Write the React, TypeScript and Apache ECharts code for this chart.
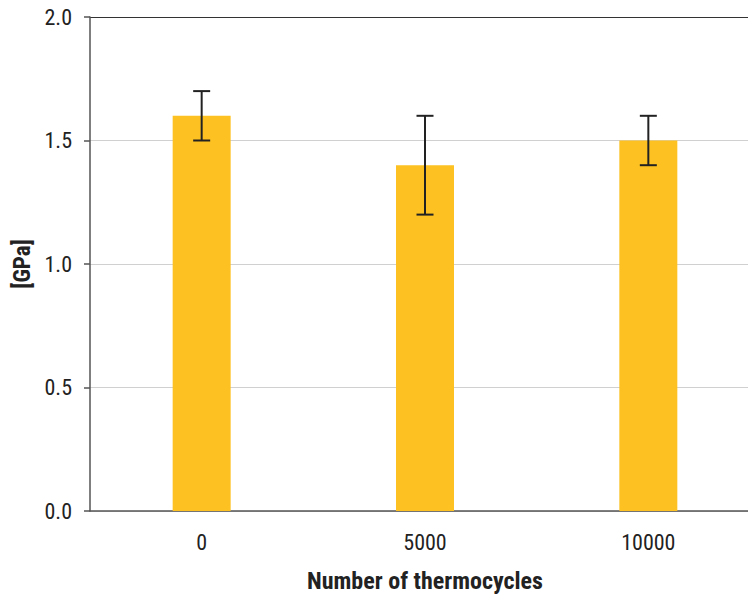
import React, { useEffect, useRef } from "react";
import * as echarts from "echarts";

const categories = ["0", "5000", "10000"];
const values = [1.6, 1.4, 1.5];
const errLow = [1.5, 1.2, 1.4];
const errHigh = [1.7, 1.6, 1.6];
const yTicks = { min: 0, max: 2, interval: 0.5 };

const FONT = "'Roboto Condensed', 'Liberation Sans Narrow', 'Liberation Sans', Arial, sans-serif";

export default function App() {
  const ref = useRef<HTMLDivElement>(null);
  useEffect(() => {
    const chart = echarts.init(ref.current!, null, { renderer: "svg", width: 748, height: 599 });
    chart.setOption({
      animation: false,
      grid: {
        left: 90,
        top: 17,
        width: 670,
        height: 494,
        containLabel: false,
        outerBoundsMode: "none",
      },
      xAxis: {
        type: "category",
        data: categories,
        name: "Number of thermocycles",
        nameLocation: "middle",
        nameGap: 58,
        nameTextStyle: { fontFamily: FONT, fontSize: 24, fontWeight: "bold", color: "#222" },
        axisLine: { lineStyle: { color: "#555", width: 1.5 } },
        axisTick: { show: false },
        axisLabel: { fontFamily: FONT, fontSize: 22, color: "#222", margin: 20 },
      },
      yAxis: {
        type: "value",
        min: yTicks.min,
        max: yTicks.max,
        interval: yTicks.interval,
        name: "[GPa]",
        nameLocation: "middle",
        nameGap: 55,
        nameTextStyle: { fontFamily: FONT, fontSize: 23, fontWeight: "bold", color: "#222" },
        axisLine: { show: true, lineStyle: { color: "#555", width: 1.5 } },
        axisTick: { show: true, length: 6, lineStyle: { color: "#555", width: 1.5 } },
        axisLabel: {
          fontFamily: FONT,
          fontSize: 22,
          color: "#222",
          margin: 18,
          formatter: (v: number) => v.toFixed(1),
        },
        splitLine: {
          lineStyle: {
            color: ["#d0d0d0", "#d0d0d0", "#d0d0d0", "#d0d0d0", "#333"],
            width: 1.2,
          },
        },
      },
      series: [
        {
          type: "bar",
          data: values,
          barWidth: 58,
          itemStyle: { color: "#FDC221" },
          z: 2,
        },
        {
          type: "custom",
          z: 5,
          data: categories.map((_, i) => [i, errLow[i], errHigh[i]]),
          renderItem: (params: any, api: any) => {
            const x = api.value(0);
            const lo = api.coord([x, api.value(1)]);
            const hi = api.coord([x, api.value(2)]);
            const cap = 8.5;
            const style = { stroke: "#222", lineWidth: 2 };
            return {
              type: "group",
              children: [
                { type: "line", shape: { x1: hi[0], y1: hi[1], x2: lo[0], y2: lo[1] }, style },
                { type: "line", shape: { x1: hi[0] - cap, y1: hi[1], x2: hi[0] + cap, y2: hi[1] }, style },
                { type: "line", shape: { x1: lo[0] - cap, y1: lo[1], x2: lo[0] + cap, y2: lo[1] }, style },
              ],
            };
          },
        },
      ],
    });
    return () => chart.dispose();
  }, []);
  return <div ref={ref} style={{ width: 748, height: 599, position: "absolute", left: 0, top: 0, overflow: "hidden" }} />;
}
